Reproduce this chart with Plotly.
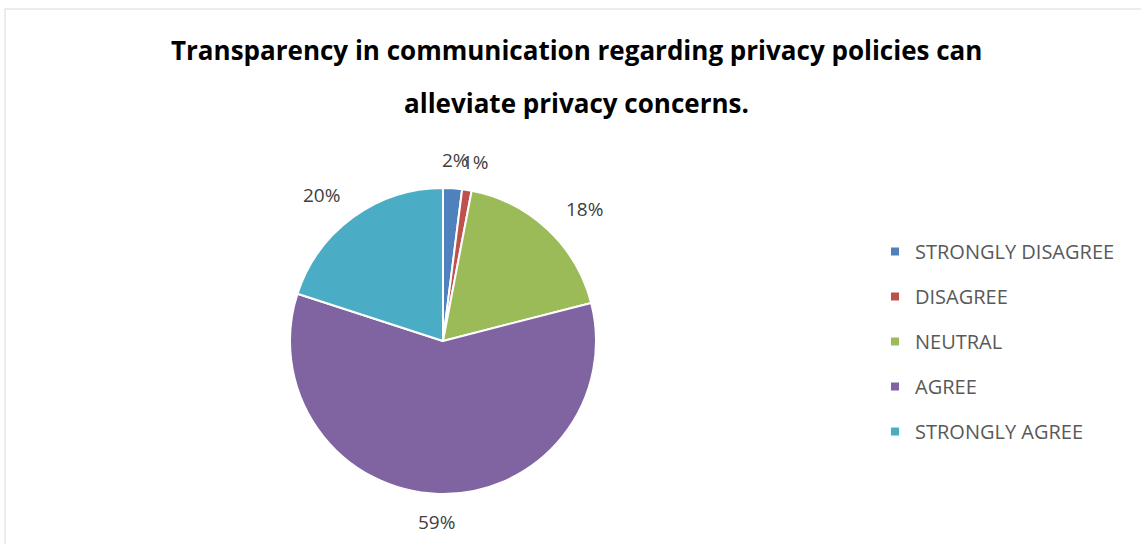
import math
import plotly.graph_objects as go

# Survey responses (percent of respondents)
categories = ["STRONGLY DISAGREE", "DISAGREE", "NEUTRAL", "AGREE", "STRONGLY AGREE"]
shares = [2, 1, 18, 59, 20]
colors = ["#4F81BD", "#C0504D", "#9BBB59", "#8064A2", "#4BACC6"]

title_lines = [
    "Transparency in communication regarding privacy policies can",
    "alleviate privacy concerns.",
]

W, H = 1141, 544
CX, CY, R = 443, 341, 153          # pie centre and radius in pixels
LABEL_RX, LABEL_RY = R + 53, R + 28  # label ring (horizontal / vertical reach)
FONT = "Open Sans"

fig = go.Figure()

fig.add_trace(go.Pie(
    labels=categories,
    values=shares,
    marker=dict(colors=colors, line=dict(color="white", width=2)),
    sort=False,
    direction="clockwise",
    rotation=0,
    textinfo="none",
    hoverinfo="label+percent",
    showlegend=False,
    domain=dict(x=[(CX - R) / W, (CX + R) / W], y=[1 - (CY + R) / H, 1 - (CY - R) / H]),
))

# Legend entries as square swatches, one group each for even spacing
for name, col in zip(categories, colors):
    fig.add_trace(go.Scatter(
        x=[None], y=[None], mode="markers", name=name, legendgroup=name,
        marker=dict(symbol="square", size=8, color=col),
    ))

# Percentage labels placed around the pie at each slice's mid-angle
annotations = []
total = sum(shares)
cum = 0
for v in shares:
    mid = (cum + v / 2) / total * 2 * math.pi
    cum += v
    px = CX + LABEL_RX * math.sin(mid)
    py = CY - LABEL_RY * math.cos(mid)
    annotations.append(dict(
        x=px / W, y=1 - py / H, xref="paper", yref="paper",
        text=f"{round(v / total * 100)}%", showarrow=False,
        xanchor="center", yanchor="middle",
        font=dict(family=FONT, size=19, color="#404040"),
    ))

for i, line in enumerate(title_lines):
    annotations.append(dict(
        x=576 / W, y=1 - (50 + 53 * i) / H, xref="paper", yref="paper",
        text=f"<b>{line}</b>", showarrow=False, xanchor="center", yanchor="middle",
        font=dict(family=FONT, size=26, color="#000000"),
    ))

fig.update_layout(
    width=W, height=H,
    margin=dict(l=0, r=0, t=0, b=0),
    paper_bgcolor="white", plot_bgcolor="white",
    xaxis=dict(visible=False), yaxis=dict(visible=False),
    showlegend=True,
    legend=dict(
        x=875 / W, y=1 - 232 / H, xanchor="left", yanchor="top",
        font=dict(family=FONT, size=20, color="#595959"),
        tracegroupgap=16, itemclick=False, itemdoubleclick=False,
        bgcolor="rgba(0,0,0,0)",
    ),
    annotations=annotations,
    shapes=[dict(
        type="rect", xref="paper", yref="paper",
        x0=5 / W, y0=-0.2, x1=1.2, y1=1 - 9 / H,
        line=dict(color="#d9d9d9", width=1), fillcolor="rgba(0,0,0,0)",
    )],
)

fig.write_html("out.html")
